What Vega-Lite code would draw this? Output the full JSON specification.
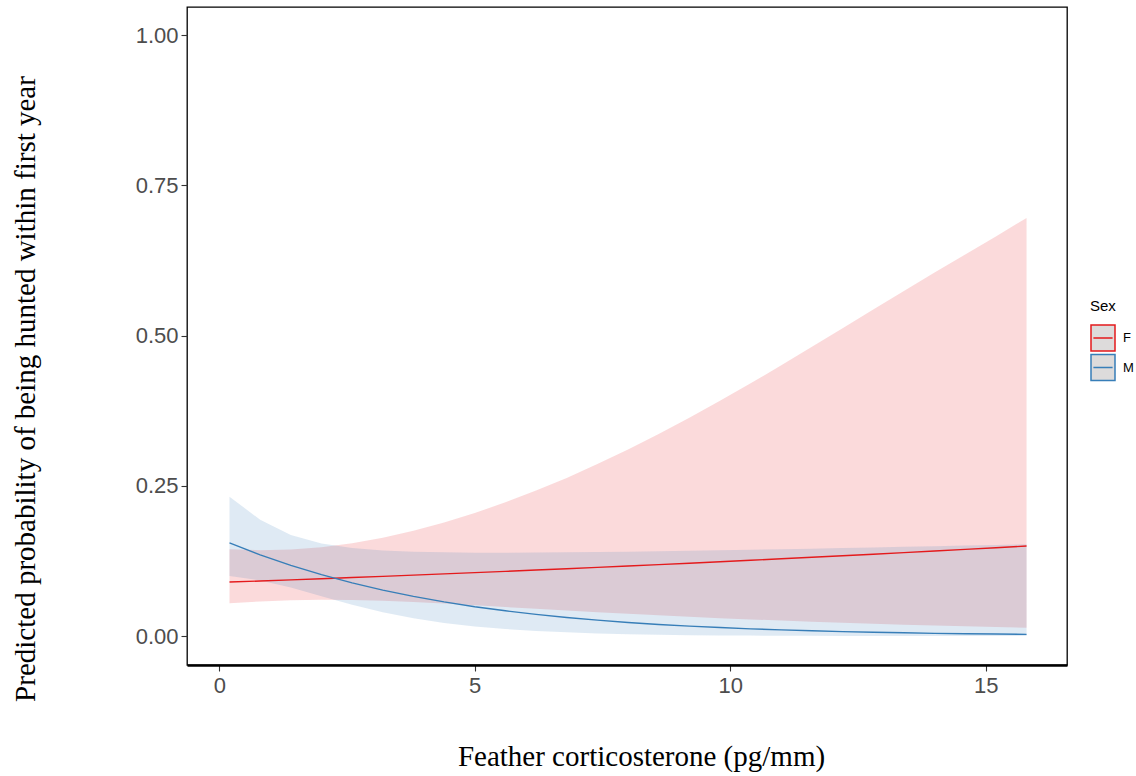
{
  "$schema": "https://vega.github.io/schema/vega-lite/v6.json",
  "width": 880,
  "height": 658,
  "autosize": "none",
  "padding": {"left": 187, "top": 7, "right": 69, "bottom": 111},
  "background": "white",
  "config": {
    "view": {"stroke": "#000000", "strokeWidth": 1.3},
    "axis": {
      "grid": false,
      "labelFont": "Liberation Sans",
      "labelFontSize": 22,
      "labelColor": "#4d4d4d",
      "tickColor": "#333333",
      "tickSize": 6,
      "tickWidth": 1.1,
      "titleFont": "Liberation Serif",
      "titleFontSize": 29,
      "titleFontWeight": "normal",
      "titleColor": "#000000"
    }
  },
  "data": {
    "values": [
      {"x": 0.2, "sex": "F", "fit": 0.0900, "lo": 0.0547, "hi": 0.1445},
      {"x": 0.8, "sex": "F", "fit": 0.0918, "lo": 0.0577, "hi": 0.1431},
      {"x": 1.4, "sex": "F", "fit": 0.0937, "lo": 0.0597, "hi": 0.1442},
      {"x": 2.0, "sex": "F", "fit": 0.0956, "lo": 0.0605, "hi": 0.1480},
      {"x": 2.6, "sex": "F", "fit": 0.0976, "lo": 0.0601, "hi": 0.1545},
      {"x": 3.2, "sex": "F", "fit": 0.0995, "lo": 0.0588, "hi": 0.1637},
      {"x": 3.8, "sex": "F", "fit": 0.1016, "lo": 0.0567, "hi": 0.1753},
      {"x": 4.4, "sex": "F", "fit": 0.1036, "lo": 0.0542, "hi": 0.1891},
      {"x": 5.0, "sex": "F", "fit": 0.1057, "lo": 0.0514, "hi": 0.2049},
      {"x": 5.6, "sex": "F", "fit": 0.1078, "lo": 0.0485, "hi": 0.2227},
      {"x": 6.2, "sex": "F", "fit": 0.1100, "lo": 0.0456, "hi": 0.2422},
      {"x": 6.8, "sex": "F", "fit": 0.1122, "lo": 0.0427, "hi": 0.2634},
      {"x": 7.4, "sex": "F", "fit": 0.1144, "lo": 0.0399, "hi": 0.2863},
      {"x": 8.0, "sex": "F", "fit": 0.1167, "lo": 0.0373, "hi": 0.3107},
      {"x": 8.6, "sex": "F", "fit": 0.1190, "lo": 0.0347, "hi": 0.3365},
      {"x": 9.2, "sex": "F", "fit": 0.1214, "lo": 0.0323, "hi": 0.3636},
      {"x": 9.8, "sex": "F", "fit": 0.1237, "lo": 0.0300, "hi": 0.3918},
      {"x": 10.4, "sex": "F", "fit": 0.1262, "lo": 0.0279, "hi": 0.4208},
      {"x": 11.0, "sex": "F", "fit": 0.1287, "lo": 0.0259, "hi": 0.4507},
      {"x": 11.6, "sex": "F", "fit": 0.1312, "lo": 0.0240, "hi": 0.4815},
      {"x": 12.2, "sex": "F", "fit": 0.1337, "lo": 0.0222, "hi": 0.5125},
      {"x": 12.8, "sex": "F", "fit": 0.1363, "lo": 0.0206, "hi": 0.5435},
      {"x": 13.4, "sex": "F", "fit": 0.1390, "lo": 0.0191, "hi": 0.5745},
      {"x": 14.0, "sex": "F", "fit": 0.1416, "lo": 0.0177, "hi": 0.6050},
      {"x": 14.6, "sex": "F", "fit": 0.1444, "lo": 0.0164, "hi": 0.6350},
      {"x": 15.2, "sex": "F", "fit": 0.1471, "lo": 0.0151, "hi": 0.6650},
      {"x": 15.8, "sex": "F", "fit": 0.1500, "lo": 0.0140, "hi": 0.6960},
      {"x": 0.2, "sex": "M", "fit": 0.1551, "lo": 0.1003, "hi": 0.2321},
      {"x": 0.8, "sex": "M", "fit": 0.1354, "lo": 0.0927, "hi": 0.1937},
      {"x": 1.4, "sex": "M", "fit": 0.1179, "lo": 0.0810, "hi": 0.1685},
      {"x": 2.0, "sex": "M", "fit": 0.1024, "lo": 0.0666, "hi": 0.1543},
      {"x": 2.6, "sex": "M", "fit": 0.0887, "lo": 0.0522, "hi": 0.1467},
      {"x": 3.2, "sex": "M", "fit": 0.0767, "lo": 0.0398, "hi": 0.1427},
      {"x": 3.8, "sex": "M", "fit": 0.0662, "lo": 0.0298, "hi": 0.1406},
      {"x": 4.4, "sex": "M", "fit": 0.0570, "lo": 0.0221, "hi": 0.1395},
      {"x": 5.0, "sex": "M", "fit": 0.0490, "lo": 0.0162, "hi": 0.1390},
      {"x": 5.6, "sex": "M", "fit": 0.0422, "lo": 0.0119, "hi": 0.1389},
      {"x": 6.2, "sex": "M", "fit": 0.0362, "lo": 0.0087, "hi": 0.1391},
      {"x": 6.8, "sex": "M", "fit": 0.0310, "lo": 0.0063, "hi": 0.1395},
      {"x": 7.4, "sex": "M", "fit": 0.0266, "lo": 0.0046, "hi": 0.1400},
      {"x": 8.0, "sex": "M", "fit": 0.0228, "lo": 0.0033, "hi": 0.1406},
      {"x": 8.6, "sex": "M", "fit": 0.0195, "lo": 0.0024, "hi": 0.1413},
      {"x": 9.2, "sex": "M", "fit": 0.0167, "lo": 0.0017, "hi": 0.1421},
      {"x": 9.8, "sex": "M", "fit": 0.0143, "lo": 0.0013, "hi": 0.1429},
      {"x": 10.4, "sex": "M", "fit": 0.0122, "lo": 0.0009, "hi": 0.1438},
      {"x": 11.0, "sex": "M", "fit": 0.0104, "lo": 0.0007, "hi": 0.1447},
      {"x": 11.6, "sex": "M", "fit": 0.0089, "lo": 0.0005, "hi": 0.1456},
      {"x": 12.2, "sex": "M", "fit": 0.0076, "lo": 0.0004, "hi": 0.1466},
      {"x": 12.8, "sex": "M", "fit": 0.0065, "lo": 0.0003, "hi": 0.1476},
      {"x": 13.4, "sex": "M", "fit": 0.0056, "lo": 0.0002, "hi": 0.1486},
      {"x": 14.0, "sex": "M", "fit": 0.0047, "lo": 0.0002, "hi": 0.1496},
      {"x": 14.6, "sex": "M", "fit": 0.0041, "lo": 0.0001, "hi": 0.1507},
      {"x": 15.2, "sex": "M", "fit": 0.0035, "lo": 0.0001, "hi": 0.1518},
      {"x": 15.8, "sex": "M", "fit": 0.0030, "lo": 0.0001, "hi": 0.1529}
    ]
  },
  "encoding": {
    "x": {
      "field": "x",
      "type": "quantitative",
      "scale": {"domain": [-0.632, 16.592], "nice": false, "zero": false},
      "axis": {
        "values": [0, 5, 10, 15],
        "title": "Feather corticosterone (pg/mm)",
        "titleX": 454,
        "titleY": 100.5,
        "titleAlign": "center",
        "titleBaseline": "alphabetic",
        "labelPadding": 4,
        "domain": true,
        "domainColor": "#000000",
        "domainWidth": 2.5
      }
    }
  },
  "layer": [
    {
      "transform": [{"filter": "datum.sex === 'F'"}],
      "mark": {"type": "area", "color": "#E41A1C", "fillOpacity": 0.16, "clip": true},
      "encoding": {
        "y": {
          "field": "lo",
          "type": "quantitative",
          "scale": {"domain": [-0.048, 1.047], "nice": false, "zero": false},
          "axis": {
            "values": [0, 0.25, 0.5, 0.75, 1],
            "format": ".2f",
            "title": "Predicted probability of being hunted within first year",
            "titleAngle": 270,
            "titleX": -153,
            "titleY": 381.5,
            "titleAlign": "center",
            "titleBaseline": "alphabetic",
            "labelPadding": 3,
            "domain": false
          }
        },
        "y2": {"field": "hi"}
      }
    },
    {
      "transform": [{"filter": "datum.sex === 'M'"}],
      "mark": {"type": "area", "color": "#377EB8", "fillOpacity": 0.16, "clip": true},
      "encoding": {
        "y": {"field": "lo", "type": "quantitative"},
        "y2": {"field": "hi"}
      }
    },
    {
      "mark": {"type": "line", "strokeWidth": 1.4, "clip": true},
      "encoding": {
        "y": {"field": "fit", "type": "quantitative"},
        "color": {
          "field": "sex",
          "type": "nominal",
          "scale": {"domain": ["F", "M"], "range": ["#E41A1C", "#377EB8"]},
          "legend": {
            "title": "Sex",
            "orient": "none",
            "legendX": 903,
            "legendY": 292,
            "titleFont": "Liberation Sans",
            "titleFontSize": 15,
            "titleFontWeight": "normal",
            "titleColor": "#000000",
            "titlePadding": 11,
            "labelFont": "Liberation Sans",
            "labelFontSize": 13,
            "labelColor": "#000000",
            "labelOffset": 7,
            "symbolType": "M-1,-1.08H1V1.08H-1Z M-0.8,0H0.8",
            "symbolSize": 576,
            "symbolStrokeWidth": 1.5,
            "symbolFillColor": "#dddbdb",
            "rowPadding": -2.5
          }
        }
      }
    }
  ]
}
